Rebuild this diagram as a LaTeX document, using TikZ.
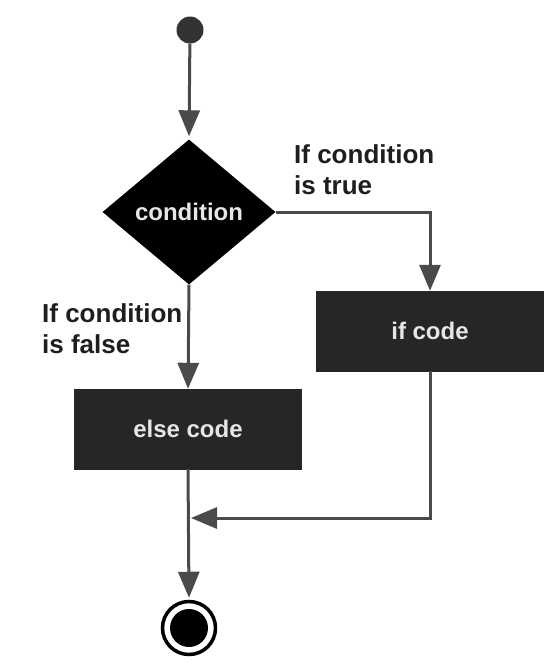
\documentclass[tikz,border=0pt]{standalone}
\usepackage{fontspec}
\setmainfont{Liberation Sans}
\usetikzlibrary{shapes.geometric,arrows.meta}
\definecolor{linegray}{HTML}{4A4A4A}
\definecolor{boxfill}{HTML}{262626}
\definecolor{boxtext}{HTML}{E6E6E6}
\definecolor{labeltext}{HTML}{1E1E1E}
\definecolor{startfill}{HTML}{333333}
\tikzset{
  conn/.style={draw=linegray, line width=3pt, -{Triangle[length=26pt,width=21pt]}},
  codebox/.style={rectangle, fill=boxfill, draw=boxfill, minimum width=227pt, minimum height=80pt, inner sep=0pt, text=boxtext, font=\fontsize{24pt}{28pt}\selectfont\bfseries},
  decision/.style={diamond, fill=black, minimum width=173pt, minimum height=145pt, inner sep=0pt, text=boxtext, font=\fontsize{24pt}{28pt}\selectfont\bfseries},
  lbl/.style={align=left, inner sep=0pt, text=labeltext, font=\fontsize{26pt}{31pt}\selectfont\bfseries, anchor=base west}
}
\begin{document}
\begin{tikzpicture}[x=1pt,y=-1pt]
\useasboundingbox (0,0) rectangle (556,672);
\node[circle, fill=startfill, minimum size=27pt, inner sep=0pt] (start) at (190,30) {};
\node[decision] (cond) at (189,212) {condition};
\node[codebox] (ifcode) at (430,331) {if code};
\node[codebox] (elsecode) at (188,429) {else code};
\node[circle, draw=black, line width=3.5pt, minimum size=53pt, inner sep=0pt] (end) at (189,628) {};
\node[circle, fill=black, minimum size=38pt, inner sep=0pt] (endin) at (189,628) {};
\coordinate (merge) at (191,518);
\node[lbl] (ltrue) at (294,194) {If condition\\is true};
\node[lbl] (lfalse) at (42,353) {If condition\\is false};
\draw[conn, shorten >=3pt] (start) -- (cond.north);
\draw[conn] (cond.east) -| (ifcode.north);
\draw[conn] (cond.south) -- (elsecode.north);
\draw[conn, shorten >=2pt] (elsecode.south) -- (end.north);
\draw[conn] (ifcode.south) |- (merge);
\end{tikzpicture}
\end{document}
